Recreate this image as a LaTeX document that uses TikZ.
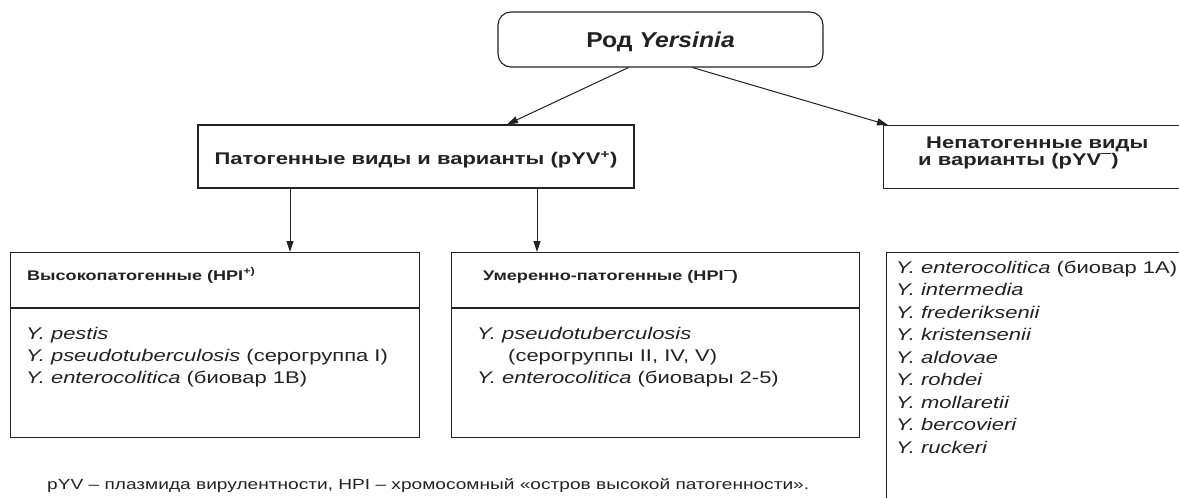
\documentclass[tikz,border=0pt]{standalone}
\usepackage{fontspec}
\setmainfont{Liberation Sans}
\newfontfamily\mainf{Liberation Sans}[FakeStretch=1.3]
\newfontfamily\ttlfont{Liberation Sans}[FakeStretch=1.15]
\usetikzlibrary{arrows.meta,calc}
\definecolor{ink}{HTML}{222222}
\newcommand\supplus{\textsuperscript{+}}
\newcommand\supminus{\raisebox{0.66em}{\rule{0.6em}{0.09em}}}
\begin{document}
\begin{tikzpicture}[x=1pt,y=-1pt,
  box/.style={draw=ink, line width=1.1pt, inner sep=0pt},
  arr/.style={draw=ink, line width=1pt, -{Triangle[length=11pt,width=7pt]}},
  titlefont/.style={font=\ttlfont\fontsize{21.5}{24}\selectfont\bfseries},
  hdrtwo/.style={font=\mainf\fontsize{16.9}{18}\selectfont\bfseries, text=ink, inner sep=0pt},
  hdr/.style={font=\mainf\fontsize{13.9}{16}\selectfont\bfseries, text=ink, inner sep=0pt, anchor=base west},
  body/.style={font=\mainf\fontsize{16.9}{22}\selectfont, text=ink, inner sep=0pt, anchor=base west},
  note/.style={font=\mainf\fontsize{14.7}{18}\selectfont, text=ink, inner sep=0pt, anchor=base west}]
\useasboundingbox (0,0) rectangle (1179,498);
\clip (0,0) rectangle (1179,498);
\fill[white] (0,0) rectangle (1179,498);

% root
\node[box, rounded corners=13pt, minimum width=325pt, minimum height=55pt, titlefont, text=ink, text height=15pt, text depth=0pt] (root) at (660.5,39.5) {Род \textit{Yersinia}};

% level 2
\node[box, minimum width=436pt, minimum height=63pt, hdrtwo, text height=16pt, text depth=0pt] (path) at (416,156.5) {Патогенные виды и варианты (pYV\supplus)};
\node[box, minimum width=330pt, minimum height=63pt, anchor=north west] (np) at (883,125) {};
\node[hdrtwo, anchor=base west] (np1) at (926,148) {Непатогенные виды};
\node[hdrtwo, anchor=base west] (np2) at (918,165.5) {и варианты (pYV\supminus)};

% level 3 boxes
\node[box, minimum width=409pt, minimum height=185pt, anchor=north west] (hp) at (10,252) {};
\node[box, minimum width=408pt, minimum height=185pt, anchor=north west] (mp) at (451,252) {};
\node[box, minimum width=320pt, minimum height=270pt, anchor=north west] (lst) at (886,252) {};
\draw[draw=ink, line width=1.1pt] ($(hp.north west)+(0,56)$) -- ($(hp.north east)+(0,56)$);
\draw[draw=ink, line width=1.1pt] ($(mp.north west)+(0,56)$) -- ($(mp.north east)+(0,56)$);

\node[hdr] (hphead) at (27,280) {Высокопатогенные (HPI\textsuperscript{+)}};
\node[hdr] (mphead) at (483,280) {Умеренно-патогенные (HPI\supminus)};

\node[body] (hp1) at (26,339) {\textit{Y. pestis}};
\node[body] (hp2) at (26,361.3) {\textit{Y. pseudotuberculosis} (серогруппа I)};
\node[body] (hp3) at (26,383.6) {\textit{Y. enterocolitica} (биовар 1B)};

\node[body] (mp1) at (477,339) {\textit{Y. pseudotuberculosis}};
\node[body] (mp2) at (508,361.3) {(серогруппы II, IV, V)};
\node[body] (mp3) at (477,383.6) {\textit{Y. enterocolitica} (биовары 2-5)};

\foreach \t [count=\i from 0] in {{\textit{Y. enterocolitica} (биовар 1A)},\textit{Y. intermedia},\textit{Y. frederiksenii},\textit{Y. kristensenii},\textit{Y. aldovae},\textit{Y. rohdei},\textit{Y. mollaretii},\textit{Y. bercovieri},\textit{Y. ruckeri}}
  \node[body] (ls\i) at (896,273+22.55*\i) {\t};

\node[note] (foot) at (47,489) {pYV – плазмида вирулентности, HPI – хромосомный «остров высокой патогенности».};

% connectors
\draw[arr] ([xshift=-32pt]root.south) -- ([xshift=91pt]path.north);
\draw[arr] ([xshift=32pt]root.south) -- ([xshift=5pt]np.north west);
\coordinate (d1) at ([xshift=-126pt]path.south);
\coordinate (d2) at ([xshift=121pt]path.south);
\draw[arr] (d1) -- (d1 |- hp.north);
\draw[arr] (d2) -- (d2 |- mp.north);
\end{tikzpicture}
\end{document}
